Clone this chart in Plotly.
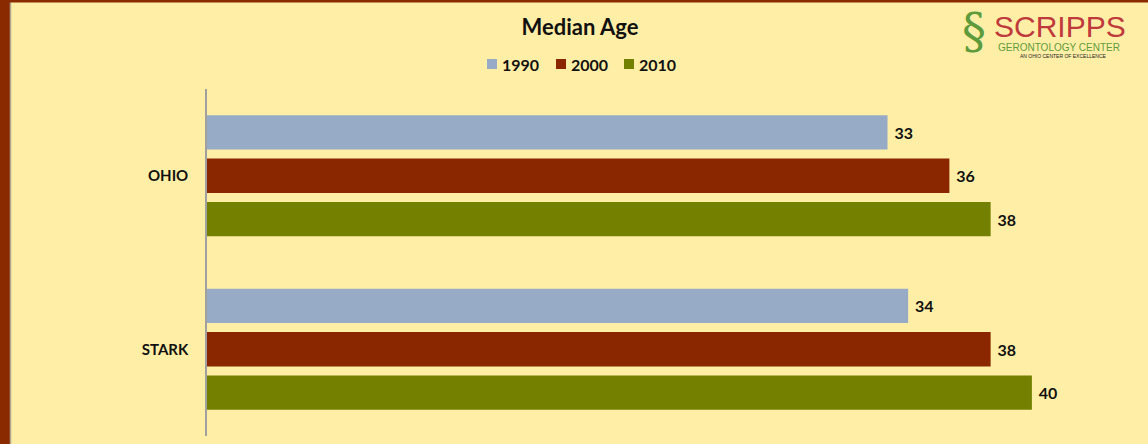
import plotly.graph_objects as go

categories = ["OHIO", "STARK"]
years = ["1990", "2000", "2010"]
values_1990 = [33, 34]
values_2000 = [36, 38]
values_2010 = [38, 40]
colors = {"1990": "#97ABC6", "2000": "#8A2700", "2010": "#738000"}

FONT = "Lato, 'Open Sans', sans-serif"
W, H = 1148, 444
L, R, T, B = 207, 13, 89, 8
PW, PH = W - L - R, H - T - B

def cx(px):
    return (px - L) / PW

def cy(py):
    return 1 - (py - T) / PH

fig = go.Figure()
for yr, vals in zip(years, [values_1990, values_2000, values_2010]):
    fig.add_trace(go.Bar(
        y=categories, x=vals, name=yr, orientation="h",
        marker=dict(color=colors[yr], line=dict(width=0)),
        text=["\u00a0" + str(v) for v in vals], textposition="outside",
        textfont=dict(family=FONT, size=16, color="#111111", weight="bold"),
        cliponaxis=False, showlegend=False, hoverinfo="skip",
    ))

fig.update_layout(
    width=W, height=H,
    paper_bgcolor="#FFEFA6", plot_bgcolor="rgba(0,0,0,0)",
    margin=dict(l=L, r=R, t=T, b=B),
    barmode="group", bargap=0.25, bargroupgap=0.21,
    showlegend=False,
    title=dict(text="<b>Median Age</b>", x=580 / W, xref="container",
               y=1 - 27 / H, yref="container", yanchor="middle", xanchor="center",
               font=dict(family=FONT, size=22, color="#111111")),
    xaxis=dict(range=[0, 45], showgrid=False, zeroline=False, showticklabels=False,
               showline=False, fixedrange=True),
    yaxis=dict(autorange="reversed", showgrid=False, zeroline=False,
               showline=True, linecolor="#A0A0A0", linewidth=1.5,
               ticks="", ticklabelstandoff=14, fixedrange=True,
               tickfont=dict(family=FONT, size=15, color="#111111", weight="bold")),
    font=dict(family=FONT),
)

# Manual legend (square + label), positioned like the reference
leg_x = [487, 556, 624]
for yr, lx in zip(years, leg_x):
    fig.add_shape(type="rect", xref="paper", yref="paper",
                  x0=cx(lx), x1=cx(lx + 10), y0=cy(69), y1=cy(59),
                  fillcolor=colors[yr], line_width=0, layer="above")
    fig.add_annotation(x=cx(lx + 13), y=cy(64), xref="paper", yref="paper", text="<b>" + yr + "</b>",
                       showarrow=False, xanchor="left", yanchor="middle",
                       font=dict(family=FONT, size=16, color="#111111"))

# Frame borders
fig.add_shape(type="rect", xref="paper", yref="paper", x0=cx(0), x1=cx(10),
              y0=cy(H + 5), y1=cy(-5), fillcolor="#8A2A00", line_width=0, layer="above")
fig.add_shape(type="line", xref="paper", yref="paper", x0=cx(10.5), x1=cx(10.5),
              y0=cy(H + 5), y1=cy(2), line=dict(color="#B0A890", width=1.5), layer="above")
fig.add_shape(type="rect", xref="paper", yref="paper", x0=cx(0), x1=cx(W + 5),
              y0=cy(2.5), y1=cy(-5), fillcolor="#8A2A00", line_width=0, layer="above")

# Logo
fig.add_annotation(x=cx(974), y=cy(31), xref="paper", yref="paper", text="§",
                   showarrow=False, font=dict(family="DejaVu Serif", size=48, color="#5E9B3C"),
                   xanchor="center", yanchor="middle")
fig.add_annotation(x=cx(1060), y=cy(27), xref="paper", yref="paper", text="SCRIPPS",
                   showarrow=False, font=dict(family="Liberation Sans", size=30, color="#BE3A3C"),
                   xanchor="center", yanchor="middle")
fig.add_annotation(x=cx(1059), y=cy(47), xref="paper", yref="paper", text="GERONTOLOGY CENTER",
                   showarrow=False, font=dict(family="Liberation Sans", size=10, color="#5E9B3C"),
                   xanchor="center", yanchor="middle")
fig.add_annotation(x=cx(1063), y=cy(56), xref="paper", yref="paper", text="AN OHIO CENTER OF EXCELLENCE",
                   showarrow=False, font=dict(family="Liberation Sans", size=5, color="#222222"),
                   xanchor="center", yanchor="middle")

fig.write_html("out.html", config={"displayModeBar": False},
               post_script="document.body.style.margin='0';document.body.style.overflow='hidden';")
